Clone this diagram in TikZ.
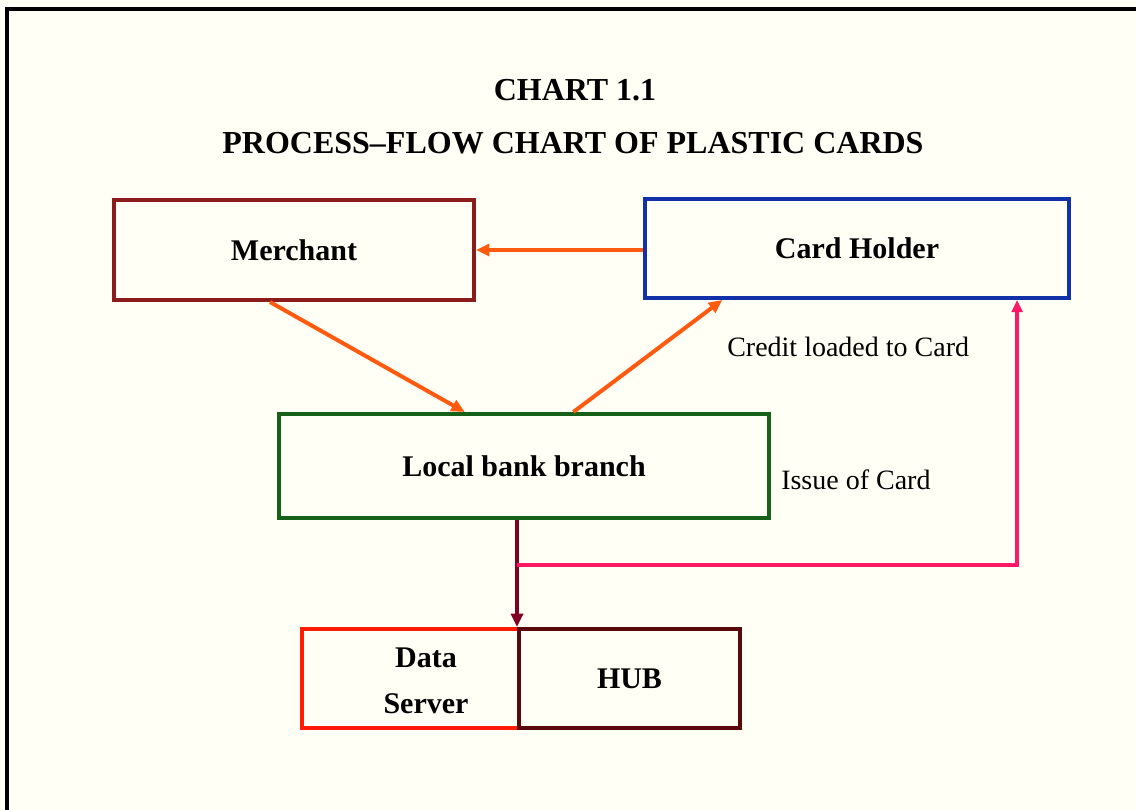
\documentclass[tikz,border=0pt]{standalone}
\usepackage{fontspec}
\setmainfont{Liberation Serif}
\usetikzlibrary{arrows.meta,calc}

\definecolor{paper}{RGB}{255,255,246}
\definecolor{merchantc}{RGB}{140,28,28}
\definecolor{holderc}{RGB}{18,48,168}
\definecolor{bankc}{RGB}{22,96,24}
\definecolor{flowc}{RGB}{255,90,16}
\definecolor{downc}{RGB}{128,0,32}
\definecolor{issuec}{RGB}{255,24,100}
\definecolor{serverc}{RGB}{255,28,0}
\definecolor{hubc}{RGB}{88,10,10}

\tikzset{
  box/.style={draw, rectangle, line width=3pt, inner sep=0pt,
    font=\bfseries\fontsize{22.5}{27}\selectfont},
  heading/.style={font=\bfseries\fontsize{24}{28}\selectfont, anchor=base},
  note/.style={font=\fontsize{21}{25}\selectfont, anchor=base west, inner sep=0pt},
  flow/.style={line width=3pt, -{Triangle[length=10pt,width=9pt]}},
}

\begin{document}
\begin{tikzpicture}[x=0.75pt, y=-0.75pt]
  \useasboundingbox (0,0) rectangle (1136,810);
  \fill[paper] (0,0) rectangle (1136,810);
  % outer frame (left and top edges)
  \draw[line width=2.6pt] (7,815) -- (7,9) -- (1140,9);

  % titles
  \node[heading] (title) at (575,100) {CHART 1.1};
  \node[heading] (subtitle) at (573,153) {PROCESS\textendash FLOW CHART OF PLASTIC CARDS};

  % boxes
  \node[box, draw=merchantc, minimum width=270pt, minimum height=75pt]
    (merchant) at (294,250) {Merchant};
  \node[box, draw=holderc, minimum width=318pt, minimum height=74.25pt]
    (holder) at (857,248.5) {Card Holder};
  \node[box, draw=bankc, minimum width=367.5pt, minimum height=78pt]
    (bank) at (524,466) {Local bank branch};
  \node[box, draw=serverc, minimum width=162.75pt, minimum height=74.25pt]
    (server) at (410.5,678.5) {};
  \node[box, draw=hubc, minimum width=165.75pt, minimum height=74.25pt]
    (hub) at (629.5,678.5) {HUB};
  \node[font=\bfseries\fontsize{22.5}{34.5}\selectfont, align=center, inner sep=0pt]
    (servertext) at (426,681) {Data\\Server};

  % annotations
  \node[note] (credit) at (727,356) {Credit loaded to Card};
  \node[note] (issue) at (781,489) {Issue of Card};

  % connectors
  \draw[flow, flowc] (holder.west |- merchant.east) -- (merchant.east);
  \draw[flow, flowc] ($(merchant.south west)!0.434!(merchant.south east)$)
    -- ($(bank.north west)!0.38!(bank.north east)$);
  \draw[flow, flowc] ($(bank.north west)!0.6!(bank.north east)$)
    -- ($(holder.south west)!0.185!(holder.south east)$);
  \draw[line width=3pt, downc, -{Triangle[length=10pt,width=9pt]}]
    (bank.south -| hub.north west) -- (hub.north west);
  \draw[line width=2.4pt, issuec, -{Triangle[length=9pt,width=8pt]}]
    ($(bank.south -| hub.north west)!0.42!(hub.north west)$)
    -| ($(holder.south west)!0.874!(holder.south east)$);
\end{tikzpicture}
\end{document}
